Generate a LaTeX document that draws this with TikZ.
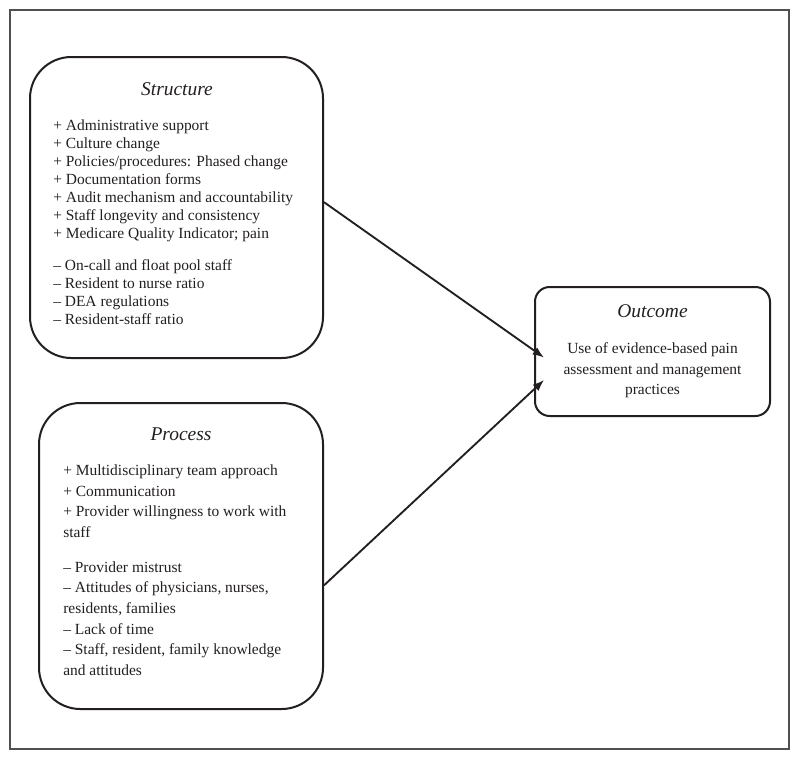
\documentclass[tikz,border=0pt]{standalone}
\usepackage{fontspec}
\setmainfont{Liberation Serif}
\usetikzlibrary{arrows.meta}
\definecolor{ink}{RGB}{35,31,32}
\definecolor{framec}{RGB}{80,80,80}
\tikzset{
  box/.style={draw=ink, line width=1.5pt, rounded corners=31pt, inner sep=0pt},
  obox/.style={draw=ink, line width=1.5pt, rounded corners=11pt, inner sep=0pt},
  ttl/.style={font=\fontsize{14.6}{16}\selectfont\itshape, text=ink, anchor=base, inner sep=0pt},
  bodyS/.style={font=\fontsize{11.6}{13.5}\selectfont, text=ink, align=left, anchor=north west, inner sep=0pt},
  bodyP/.style={font=\fontsize{11.6}{15.5}\selectfont, text=ink, align=left, anchor=north west, inner sep=0pt},
  bodyO/.style={font=\fontsize{11.6}{15.4}\selectfont, text=ink, align=center, anchor=north, inner sep=0pt},
  arr/.style={draw=ink, line width=1.4pt, -{Latex[length=8.5pt,width=6.5pt]}}
}
\begin{document}
\begin{tikzpicture}[x=0.75pt,y=-0.75pt]
\useasboundingbox (0,0) rectangle (800,761);
\node[draw=framec, line width=0.9pt, minimum width=584.25pt, minimum height=554.25pt, inner sep=0pt] (frame) at (399.5,379.5) {};

\node[box, minimum width=219.75pt, minimum height=225.75pt] (S) at (176.5,207.5) {};
\node[box, minimum width=213pt, minimum height=229.5pt] (P) at (181,556) {};
\node[obox, minimum width=176.25pt, minimum height=96.75pt] (O) at (652.5,351.5) {};

\node[ttl] (St) at (177,95) {Structure};
\node[bodyS] (Sb) at (53,119.5) {+ Administrative support\\
+ Culture change\\
+ Policies/procedures: Phased change\\
+ Documentation forms\\
+ Audit mechanism and accountability\\
+ Staff longevity and consistency\\
+ Medicare Quality Indicator; pain\\[10.5pt]
– On-call and float pool staff\\
– Resident to nurse ratio\\
– DEA regulations\\
– Resident-staff ratio};

\node[ttl] (Pt) at (181,440) {Process};
\node[bodyP] (Pb) at (63,464.4) {+ Multidisciplinary team approach\\
+ Communication\\
+ Provider willingness to work with\\
staff\\[10.5pt]
– Provider mistrust\\
– Attitudes of physicians, nurses,\\
residents, families\\
– Lack of time\\
– Staff, resident, family knowledge\\
and attitudes};

\node[ttl] (Ot) at (652.5,317) {Outcome};
\node[bodyO] (Ob) at (652.5,342.4) {Use of evidence-based pain\\
assessment and management\\
practices};

\coordinate (t1) at ([xshift=7.5pt,yshift=-4.5pt]O.west);
\coordinate (t2) at ([xshift=7.5pt,yshift=-21.4pt]O.west);
\draw[arr] ([yshift=4pt]S.east) -- (t1);
\draw[arr] ([yshift=-22pt]P.east) -- (t2);
\end{tikzpicture}
\end{document}
